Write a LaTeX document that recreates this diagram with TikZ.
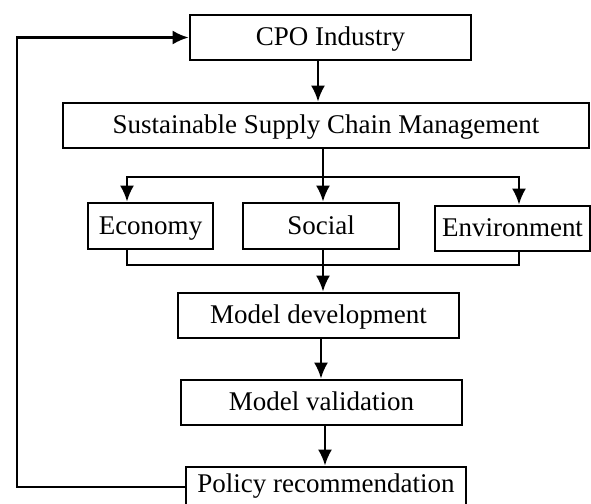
\documentclass[tikz,border=0pt]{standalone}
\usepackage{fontspec}
\setmainfont{Liberation Serif}
\usepackage{tikz}
\usetikzlibrary{arrows.meta, positioning}
\tikzstyle{box} = [draw, rectangle, line width=1.4pt, align=center, inner sep=0pt, minimum height=22.5pt, text height=10.6pt, text depth=2.4pt, font=\fontsize{13.5}{16}\selectfont]
\tikzstyle{arrow} = [line width=1.1pt, -{Latex[length=8pt,width=7pt]}]
\tikzstyle{line} = [line width=1.1pt]

\begin{document}
\begin{tikzpicture}[x=0.5pt, y=-0.5pt]
    \clip (0,0) rectangle (591,504);
    \node [box, minimum width=140.5pt] (cpo) at (330.5,37.5) {CPO Industry};
    \node [box, minimum width=263pt] (ssc) at (326,125.5) {Sustainable Supply Chain Management};
    \node [box, minimum width=62.5pt, minimum height=23pt] (eco) at (150.5,226) {Economy};
    \node [box, minimum width=78pt, minimum height=23pt] (soc) at (321,226) {Social};
    \node [box, minimum width=77.5pt] (env) at (512.5,228.5) {Environment};
    \node [box, minimum width=140.5pt] (dev) at (318.5,315.5) {Model development};
    \node [box, minimum width=140.5pt] (val) at (321.5,402.5) {Model validation};
    \node [box, minimum width=140pt, minimum height=20pt, text depth=5pt] (pol) at (326,487) {Policy recommendation};
    \coordinate (split) at (323,177);
    \coordinate (merge) at (323,265);
    \coordinate (fb) at (17,487);
    \draw [arrow] (cpo.south -| 318,0) -- (ssc.north -| 318,0);
    \draw [line] (ssc.south -| split) -- (split);
    \draw [arrow] (split) -| ([xshift=-11.75pt]eco.north);
    \draw [arrow] (split) -- (soc.north -| split);
    \draw [arrow] (split) -| ([xshift=3.25pt]env.north);
    \draw [line] ([xshift=-11.75pt]eco.south) |- (merge);
    \draw [line] ([xshift=3.25pt]env.south) |- (merge);
    \draw [line] (soc.south -| merge) -- (merge);
    \draw [arrow] (merge) -- (dev.north -| merge);
    \draw [arrow] (dev.south -| 321,0) -- (val.north -| 321,0);
    \draw [arrow] (val.south -| 325,0) -- (pol.north -| 325,0);
    \draw [arrow] (pol.west) -- (fb) |- (cpo.west);
\end{tikzpicture}
\end{document}
